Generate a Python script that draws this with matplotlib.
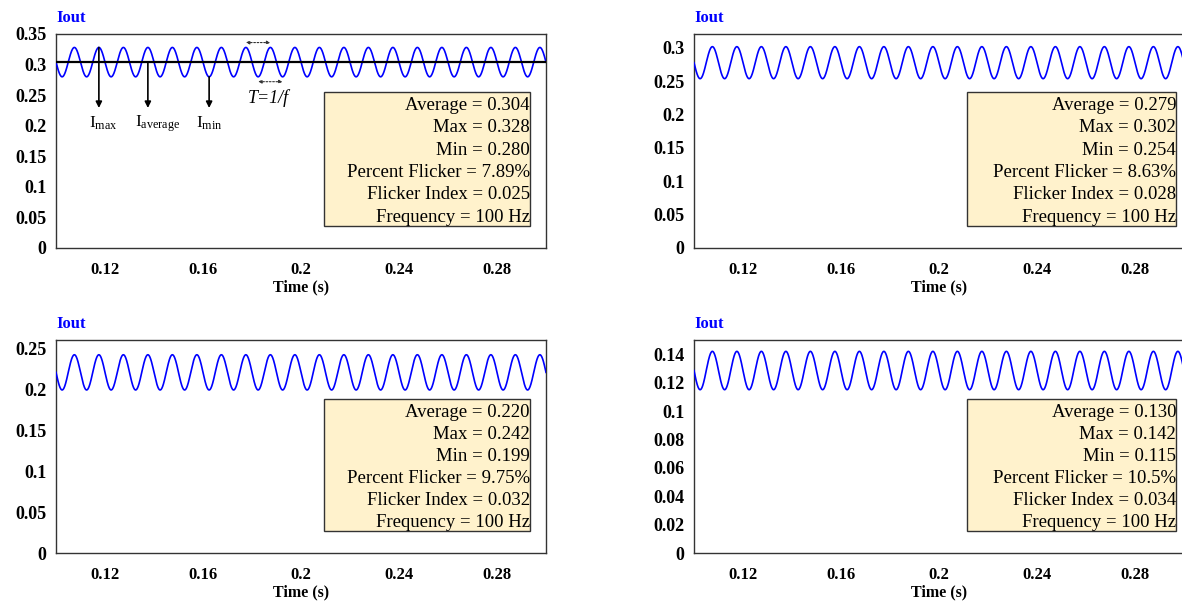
import numpy as np
import matplotlib
matplotlib.use('Agg')
import matplotlib.pyplot as plt
from matplotlib.patches import Rectangle

plt.rcParams['font.family'] = ['Liberation Serif', 'DejaVu Serif']
plt.rcParams['mathtext.fontset'] = 'custom'
plt.rcParams['mathtext.rm'] = 'Liberation Serif'
plt.rcParams['mathtext.it'] = 'Liberation Serif:italic'

# values shown in the four panels
avg_vals = [0.304, 0.279, 0.220, 0.130]
max_vals = [0.328, 0.302, 0.242, 0.142]
min_vals = [0.280, 0.254, 0.199, 0.115]
pct_flicker = ['7.89%', '8.63%', '9.75%', '10.5%']
flicker_index = ['0.025', '0.028', '0.032', '0.034']
freq_hz = [100, 100, 100, 100]

y_top = [0.35, 0.321, 0.26, 0.15]
y_ticks = [np.arange(0, 0.351, 0.05), np.arange(0, 0.301, 0.05),
           np.arange(0, 0.251, 0.05), np.arange(0, 0.141, 0.02)]
x_ticks = [0.12, 0.16, 0.2, 0.24, 0.28]
x_ticklabels = ['0.12', '0.16', '0.2', '0.24', '0.28']

W, H = 1182, 603
fig = plt.figure(figsize=(W / 100, H / 100), dpi=100)

# axes boxes in pixels: left, top, right, bottom
boxes = [(56, 34, 546, 248), (694, 34, 1184, 248),
         (56, 340, 546, 553), (694, 340, 1184, 553)]
# info box in axes fraction: left, right, top, bottom
info_boxes = [(0.547, 0.967, 0.728, 0.103), (0.557, 0.984, 0.728, 0.103),
              (0.547, 0.967, 0.723, 0.103), (0.557, 0.984, 0.723, 0.103)]

def ytick_fmt(v):
    s = ('%.2f' % v).rstrip('0').rstrip('.')
    return s if s else '0'

t = np.linspace(0.1, 0.3, 4001)
for i in range(4):
    l, tp, r, b = boxes[i]
    ax = fig.add_axes([l / W, 1 - b / H, (r - l) / W, (b - tp) / H])
    mid = (max_vals[i] + min_vals[i]) / 2.
    amp = (max_vals[i] - min_vals[i]) / 2.
    y = mid - amp * np.sin(2 * np.pi * freq_hz[i] * (t - 0.1))
    ax.plot(t, y, color='#0000ff', lw=1.2, zorder=3)
    ax.set_xlim(0.1, 0.3)
    ax.set_ylim(0, y_top[i])
    ax.set_xticks(x_ticks)
    ax.set_xticklabels(x_ticklabels, fontweight='bold', fontsize=12)
    ax.set_yticks(y_ticks[i])
    ax.set_yticklabels([ytick_fmt(v) for v in y_ticks[i]], fontweight='bold', fontsize=13)
    ax.tick_params(length=0)
    ax.tick_params(axis='x', pad=10)
    ax.tick_params(axis='y', pad=7)
    ax.set_xlabel('Time (s)', fontweight='bold', fontsize=11.5, labelpad=1)
    for sp in ax.spines.values():
        sp.set_color('#333333')
        sp.set_linewidth(1.0)
    ax.text(0, 1.075, 'Iout', transform=ax.transAxes, color='#0000ff',
            fontweight='bold', fontsize=12, ha='left', va='center')

    bl, br, bt, bb = info_boxes[i]
    ax.add_patch(Rectangle((bl, bb), br - bl, bt - bb, transform=ax.transAxes,
                           facecolor='#fff2cc', edgecolor='#333333', lw=1.0, zorder=4))
    lines = ['Average = %.3f' % avg_vals[i], 'Max = %.3f' % max_vals[i],
             'Min = %.3f' % min_vals[i], 'Percent Flicker = ' + pct_flicker[i],
             'Flicker Index = ' + flicker_index[i], 'Frequency = %d Hz' % freq_hz[i]]
    step = (bt - bb) / 6.
    for k, s in enumerate(lines):
        ax.text(br, bt - step * (k + 0.6), s, transform=ax.transAxes, ha='right',
                va='center', fontsize=13.5, zorder=5)

    if i == 0:
        ax.axhline(avg_vals[0], color='black', lw=1.6, zorder=4)
        arrow_tip = 0.229
        for x0, y0 in [(0.1175, max_vals[0]), (0.1375, avg_vals[0]), (0.1625, min_vals[0])]:
            ax.annotate('', xy=(x0, arrow_tip), xytext=(x0, y0),
                        arrowprops=dict(arrowstyle='-|>', color='black', lw=1.2,
                                        mutation_scale=9, shrinkA=0, shrinkB=0), zorder=5)
        ax.text(0.1195, 0.204, r'I$_{\mathrm{max}}$', ha='center', va='center', fontsize=12.5)
        ax.text(0.1414, 0.204, r'I$_{\mathrm{average}}$', ha='center', va='center', fontsize=12.5)
        ax.text(0.1625, 0.204, r'I$_{\mathrm{min}}$', ha='center', va='center', fontsize=12.5)
        ax.text(0.1865, 0.246, 'T=1/f', style='italic', ha='center', va='center', fontsize=13)
        for xa, xb, yy in [(0.1775, 0.1875, 0.336), (0.1825, 0.1925, 0.272)]:
            ax.annotate('', xy=(xb, yy), xytext=(xa, yy),
                        arrowprops=dict(arrowstyle='<|-|>', color='#333333', lw=0.8,
                                        linestyle=(0, (1.5, 1.5)), mutation_scale=5,
                                        shrinkA=0, shrinkB=0))

fig.savefig('out.png', dpi=100)
